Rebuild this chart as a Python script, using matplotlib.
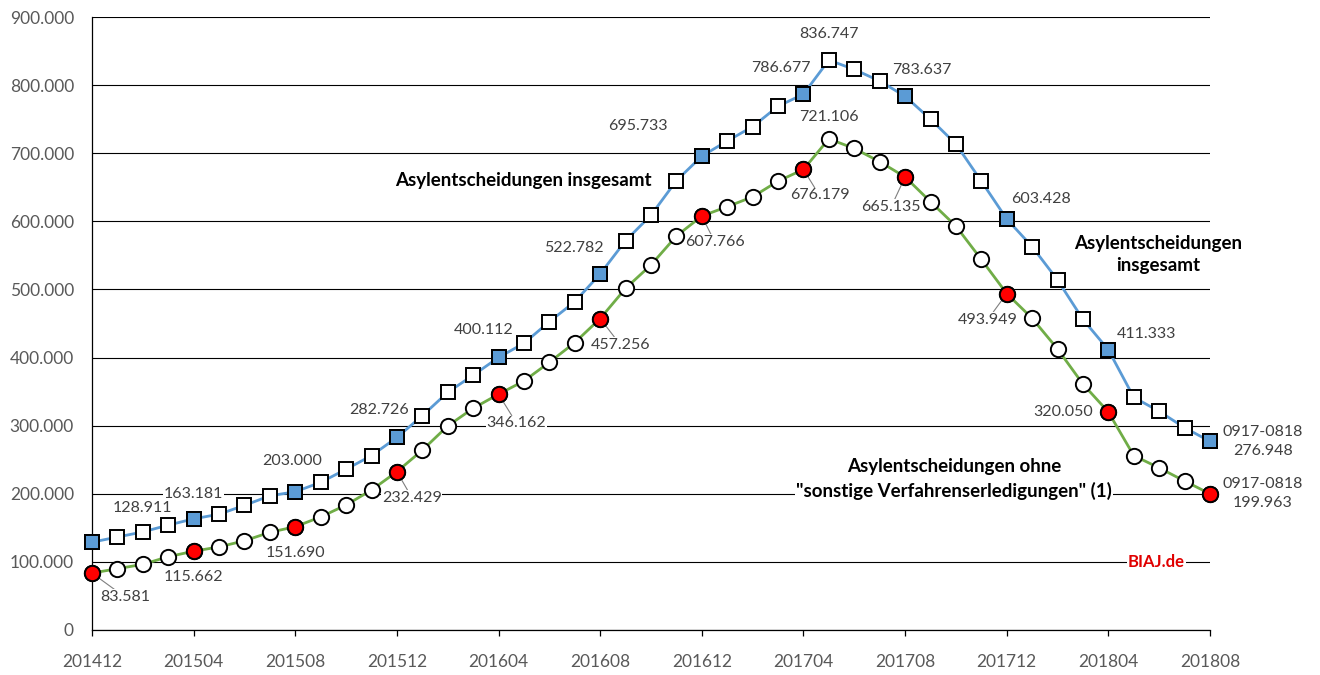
import numpy as np
from matplotlib import pyplot as plt
from matplotlib.ticker import FuncFormatter

plt.rcParams['font.family'] = ['Lato', 'DejaVu Sans']

# Monate 201412 .. 201808
months = [f'{y}{m:02d}' for y in range(2014, 2019) for m in range(1, 13)]
months = months[months.index('201412'):months.index('201808') + 1]

# Asylentscheidungen insgesamt (gleitende 12-Monats-Summe)
total = [128911, 136500, 144000, 154000, 163181, 170000, 183000, 197000, 203000,
         216800, 236000, 256000, 282726, 314600, 349000, 374000, 400112, 421000,
         452600, 482000, 522782, 571600, 609000, 659700, 695733, 718000, 739000,
         769000, 786677, 836747, 823000, 806000, 783637, 750000, 713500, 659000,
         603428, 562800, 513900, 456000, 411333, 341600, 321000, 297000, 276948]

# ohne "sonstige Verfahrenserledigungen"
without = [83581, 90000, 96400, 107600, 115662, 122000, 131000, 143400, 151690,
           166000, 183500, 205500, 232429, 264000, 299600, 325500, 346162, 365600,
           393000, 422000, 457256, 501600, 536000, 578400, 607766, 621500, 636000,
           659000, 676179, 721106, 707000, 687600, 665135, 628800, 593000, 544000,
           493949, 457600, 412600, 361000, 320050, 256000, 238000, 218700, 199963]

end_label = '0917-0818'
peak = 29  # 201705

# label offsets in pixels (dx, dy) for every 4th month
total_off = [(50, 34), (0, 25), (-3, 31), (-18, 27), (-15, 27), (-26, 26),
             (-64, 30), (-23, 26), (17, 26), (34, 20), (38, 16), (53, 0)]
without_off = [(33, -24), (0, -26), (0, -26), (15, -26), (18, -29), (20, -26),
               (13, -26), (16, -26), (-14, -30), (-19, -26), (-45, 0), (53, 0)]
without_leader = [True, False, False, True, True, True, True, True, True, True, False, False]

BLUE = '#5B9BD5'
GREEN = '#70AD47'
GREY = '#595959'
LBL = '#404040'


def fmt(v):
    return f'{int(v):,}'.replace(',', '.')


x = np.arange(len(months))
hl = x[::4]

fig = plt.figure(figsize=(13.2, 6.75), dpi=100)
ax = fig.add_axes([92 / 1320, 45 / 675, (1210 - 92) / 1320, 613 / 675])

ax.plot(x, total, '-', color=BLUE, lw=2, marker='s', ms=10.5, mfc='white',
        mec='black', mew=1.4, zorder=3, clip_on=False)
ax.plot(hl, np.array(total)[hl], 's', ms=10.5, mfc=BLUE, mec='black', mew=1.4,
        zorder=4, clip_on=False)
ax.plot(x, without, '-', color=GREEN, lw=2, marker='o', ms=11, mfc='white',
        mec='black', mew=1.4, zorder=3, clip_on=False)
ax.plot(hl, np.array(without)[hl], 'o', ms=11, mfc='red', mec='black', mew=1.4,
        zorder=4, clip_on=False)

bbox = dict(facecolor='white', edgecolor='none', pad=0.5)
for k, i in enumerate(hl):
    txt = fmt(total[i])
    if i == hl[-1]:
        txt = end_label + '\n' + txt
    ax.annotate(txt, (i, total[i]), xytext=total_off[k], textcoords='offset pixels',
                ha='center', va='center', fontsize=11.5, color=LBL, linespacing=1.45,
                bbox=bbox, zorder=2, annotation_clip=False)

    txt = fmt(without[i])
    if i == hl[-1]:
        txt = end_label + '\n' + txt
    arrow = dict(arrowstyle='-', color='#7f7f7f', lw=0.8, shrinkA=0, shrinkB=0) \
        if without_leader[k] else None
    ax.annotate(txt, (i, without[i]), xytext=without_off[k], textcoords='offset pixels',
                ha='center', va='center', fontsize=11.5, color=LBL, linespacing=1.45,
                bbox=bbox, zorder=2, arrowprops=arrow, annotation_clip=False)

# Höchststand
ax.annotate(fmt(total[peak]), (peak, total[peak]), xytext=(0, 26),
            textcoords='offset pixels', ha='center', va='center', fontsize=11.5,
            color=LBL, bbox=bbox, zorder=2)
ax.annotate(fmt(without[peak]), (peak, without[peak]), xytext=(0, 22),
            textcoords='offset pixels', ha='center', va='center', fontsize=11.5,
            color=LBL, bbox=bbox, zorder=2)

ax.text(0.3855, 0.734, 'Asylentscheidungen insgesamt', transform=ax.transAxes,
        ha='center', va='center', fontsize=13.5, fontweight='bold', zorder=2)
ax.text(0.9535, 0.6126, 'Asylentscheidungen\ninsgesamt', transform=ax.transAxes,
        ha='center', va='center', fontsize=13.5, fontweight='bold', linespacing=1.4,
        zorder=2)
ax.text(0.771, 0.2463, 'Asylentscheidungen ohne\n"sonstige Verfahrenserledigungen" (1)',
        transform=ax.transAxes, ha='center', va='center', fontsize=13.5,
        fontweight='bold', linespacing=1.4, bbox=bbox, zorder=2)
ax.text(0.952, 0.111, 'BIAJ.de', transform=ax.transAxes, ha='center', va='center',
        fontsize=12, fontweight='bold', color='#E00000', bbox=bbox, zorder=2)

ax.set_xlim(0, len(months) - 1)
ax.set_ylim(0, 900000)
ax.set_yticks(np.arange(0, 900001, 100000))
ax.yaxis.set_major_formatter(FuncFormatter(lambda v, p: fmt(v)))
ax.set_xticks(hl)
ax.set_xticklabels([months[i] for i in hl])
ax.grid(axis='y', color='black', lw=0.8, zorder=0)
ax.set_axisbelow(True)
for s in ['top', 'right']:
    ax.spines[s].set_visible(False)
ax.spines['left'].set_linewidth(0.9)
ax.spines['bottom'].set_linewidth(0.9)
ax.tick_params(axis='x', direction='out', length=4, width=0.9, pad=13,
               labelsize=12.5, labelcolor=GREY)
ax.tick_params(axis='y', length=0, pad=13, labelsize=12.5, labelcolor=GREY)

fig.savefig('out.png', dpi=100)
